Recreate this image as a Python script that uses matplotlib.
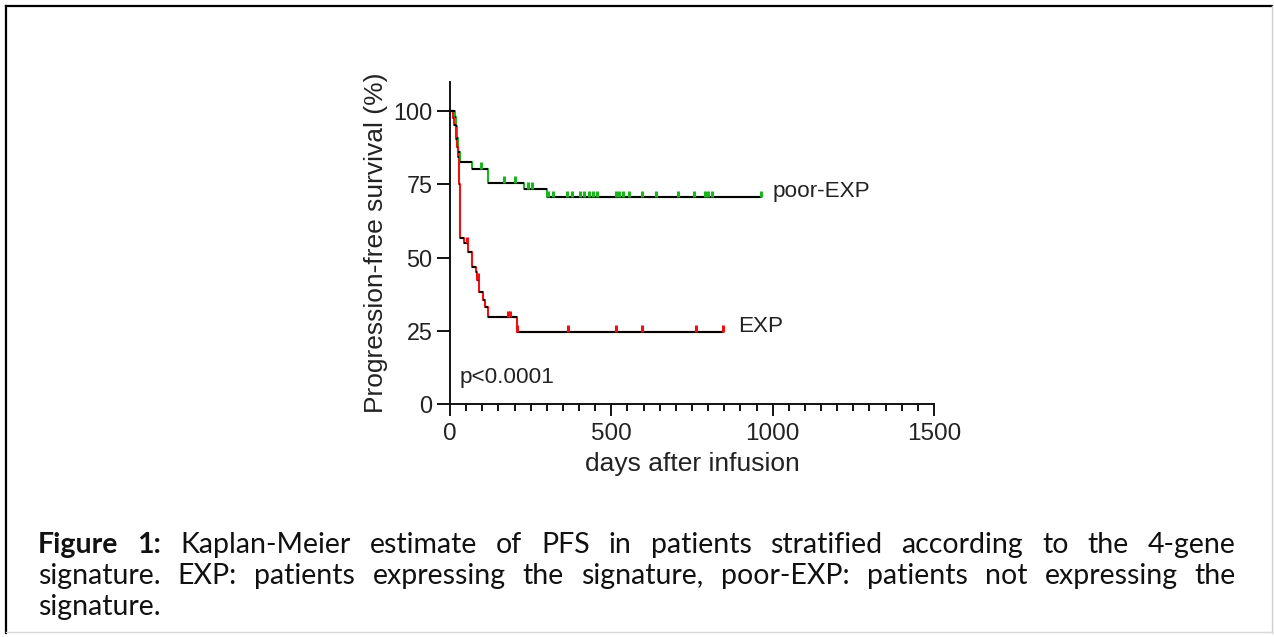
import numpy as np
import matplotlib
matplotlib.use('Agg')
import matplotlib.pyplot as plt
from matplotlib.ticker import MultipleLocator, FixedLocator
from matplotlib.lines import Line2D

# poor-EXP (green) and EXP (red) Kaplan-Meier steps
pexp_t = [0, 14, 18, 22, 26, 30, 69, 118, 229, 301]
pexp_s = [100, 98, 95, 90.8, 86, 82.7, 80.2, 75.5, 73.3, 70.5]
pexp_end = 963
pexp_cens = [95, 167, 201, 242, 253, 305, 320, 362, 377, 403, 415, 432, 444, 455,
             513, 524, 537, 556, 596, 638, 708, 756, 790, 800, 811, 963]

exp_t = [0, 8, 12, 18, 22, 26, 28, 30, 31, 43, 57, 67, 69, 81, 85, 91, 103, 108, 119, 209]
exp_s = [100, 97.6, 95.2, 90.5, 87.8, 84.4, 75, 67, 56.5, 54.8, 52, 49.7, 46.9, 45,
         42.3, 38.3, 35.5, 33, 29.6, 24.7]
exp_end = 845
exp_cens = [52, 88, 181, 186, 209, 365, 514, 596, 761, 845]

labels = ['poor-EXP', 'EXP']
colors = ['#1db51d', '#ee1111']

caption_lines = [
    [('Figure', 'bold'), ('1:', 'bold'), ('Kaplan-Meier', 'normal'), ('estimate', 'normal'),
     ('of', 'normal'), ('PFS', 'normal'), ('in', 'normal'), ('patients', 'normal'),
     ('stratified', 'normal'), ('according', 'normal'), ('to', 'normal'), ('the', 'normal'),
     ('4-gene', 'normal')],
    [(w, 'normal') for w in 'signature. EXP: patients expressing the signature, poor-EXP: patients not expressing the'.split()],
    [('signature.', 'normal')],
]

W, H = 1274, 637
fig = plt.figure(figsize=(W / 100, H / 100), dpi=100)
fig.patch.set_facecolor('white')

# frame around the figure
fig.add_artist(Line2D([6 / W, 6 / W], [1 - 6 / H, 1 - 633 / H], color='black', lw=1.6))
fig.add_artist(Line2D([6 / W, 1272 / W], [1 - 6 / H, 1 - 6 / H], color='black', lw=1.6))
fig.add_artist(Line2D([1272 / W, 1272 / W], [1 - 6 / H, 1 - 633 / H], color='#cfcfcf', lw=1))
fig.add_artist(Line2D([6 / W, 1272 / W], [1 - 632 / H, 1 - 632 / H], color='#d8d8d8', lw=1))

ax = fig.add_axes([450 / W, 1 - 404 / H, 484 / W, (404 - 81.7) / H])
font = 'Liberation Sans'
txtc = '#222222'


def step_level(times, surv, x):
    i = np.searchsorted(times, x, side='right') - 1
    return np.array(surv)[i]


def draw_km(times, surv, end, cens, color):
    t = list(times) + [end]
    s = list(surv) + [surv[-1]]
    ax.step(t, s, where='post', color=color, lw=1.5, zorder=2)
    ax.hlines(surv, t[:-1], t[1:], color='black', lw=1.5, zorder=3)
    lv = step_level(times, surv, np.array(cens))
    ax.vlines(cens, lv, lv + 2.3, color=color, lw=2.2, zorder=4)


draw_km(pexp_t, pexp_s, pexp_end, pexp_cens, colors[0])
draw_km(exp_t, exp_s, exp_end, exp_cens, colors[1])

ax.text(1000, 72.4, labels[0], fontsize=16.2, family=font, color=txtc, va='center', ha='left')
ax.text(892, 26.6, labels[1], fontsize=16.2, family=font, color=txtc, va='center', ha='left')
ax.text(30, 9, 'p<0.0001', fontsize=16.2, family=font, color=txtc, va='center', ha='left')

ax.set_xlim(0, 1500)
ax.set_ylim(0, 110)
ax.xaxis.set_major_locator(FixedLocator([0, 500, 1000, 1500]))
ax.xaxis.set_minor_locator(MultipleLocator(50))
ax.yaxis.set_major_locator(FixedLocator([0, 25, 50, 75, 100]))
for sp in ['top', 'right']:
    ax.spines[sp].set_visible(False)
for sp in ['left', 'bottom']:
    ax.spines[sp].set_linewidth(1.4)
    ax.spines[sp].set_color('#111111')
ax.tick_params(axis='y', which='major', length=9.5, width=1.4, pad=3, labelsize=16.8,
               labelcolor=txtc, color='#111111')
ax.tick_params(axis='x', which='major', length=8.5, width=1.4, pad=5, labelsize=17.5,
               labelcolor=txtc, color='#111111')
ax.tick_params(axis='x', which='minor', length=5, width=1.4, color='#111111')
for lab in ax.get_xticklabels() + ax.get_yticklabels():
    lab.set_family(font)
ax.set_xlabel('days after infusion', fontsize=19, family=font, color=txtc, labelpad=5)
ax.set_ylabel('Progression-free survival (%)', fontsize=19, family=font, color=txtc, labelpad=4)
ax.patch.set_alpha(0)

# justified caption
renderer = fig.canvas.get_renderer()
cap_font = 'Lato'
cap_size = 20.5
x_left, x_right = 38, 1236
baselines = [553, 584, 615]
for n, (line, yb) in enumerate(zip(caption_lines, baselines)):
    items = []
    for word, weight in line:
        t = fig.text(0, 1 - yb / H, word, fontsize=cap_size, family=cap_font, weight=weight,
                     color='#111111', va='baseline', ha='left')
        items.append((t, t.get_window_extent(renderer).width))
    total = sum(w for _, w in items)
    if n < len(caption_lines) - 1 and len(items) > 1:
        gap = (x_right - x_left - total) / (len(items) - 1)
    else:
        gap = 6
    x = x_left
    for t, w in items:
        t.set_x(x / W)
        x += w + gap

fig.savefig('out.png', dpi=100, facecolor='white')
